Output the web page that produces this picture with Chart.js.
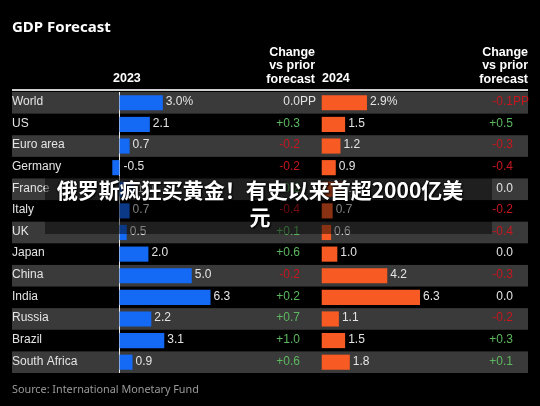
<!DOCTYPE html>
<html lang="en">
<head>
  <meta charset="UTF-8">
  <title>GDP Forecast</title>
  <script src="https://cdn.jsdelivr.net/npm/chart.js"></script>
  <style>
    body {
      margin: 0;
      padding: 0;
      background-color: #000;
    }
    .wrap {
      position: relative;
      width: 540px;
      height: 406px;
    }
    #overlay {
      position: absolute;
      left: 45px;
      top: 176px;
      width: 447px;
      height: 58px;
      background: rgba(0, 0, 0, 0.45);
    }
    #headline {
      position: absolute;
      left: 0;
      top: 176px;
      width: 520px;
      text-align: center;
      font-family: "Noto Sans CJK SC", sans-serif;
      font-weight: bold;
      font-size: 21px;
      line-height: 27px;
      color: #fff;
      text-shadow: 0 0 3px #000, 1px 1px 2px #000;
    }
  </style>
</head>
<body>
  <div class="wrap">
    <canvas id="gdpChart" width="540" height="406"></canvas>
    <div id="overlay"></div>
    <div id="headline">俄罗斯疯狂买黄金！有史以来首超2000亿美<br>元</div>
  </div>

  <script>
    const countries = ['World', 'US', 'Euro area', 'Germany', 'France', 'Italy', 'UK', 'Japan', 'China', 'India', 'Russia', 'Brazil', 'South Africa'];
    const gdp2023 = [3.0, 2.1, 0.7, -0.5, 1.0, 0.7, 0.5, 2.0, 5.0, 6.3, 2.2, 3.1, 0.9];
    const gdp2024 = [2.9, 1.5, 1.2, 0.9, 1.3, 0.7, 0.6, 1.0, 4.2, 6.3, 1.1, 1.5, 1.8];
    const change2023 = [0.0, 0.3, -0.2, -0.2, 0.2, -0.4, 0.1, 0.6, -0.2, 0.2, 0.7, 1.0, 0.6];
    const change2024 = [-0.1, 0.5, -0.3, -0.4, 0.0, -0.2, -0.4, 0.0, -0.3, 0.0, -0.2, 0.3, 0.1];

    const BLUE = '#1469f5';
    const ORANGE = '#f85a24';
    const STRIPE = '#3a3a3a';
    const TEXT = '#e4e4e4';
    const GREEN = '#5cb85f';
    const RED = '#c8161e';
    const SANS = '"Liberation Sans", Arial, sans-serif';

    function fmtChange(v) {
      if (v > 0) return '+' + v.toFixed(1);
      return v.toFixed(1);
    }
    function changeColor(v) {
      if (v > 0) return GREEN;
      if (v < 0) return RED;
      return TEXT;
    }

    const tablePlugin = {
      id: 'tablePlugin',
      beforeDatasetsDraw(chart) {
        const ctx = chart.ctx;
        const area = chart.chartArea;
        const y = chart.scales.y;
        const rowH = (area.bottom - area.top) / countries.length;
        ctx.save();
        // striped rows
        countries.forEach((c, i) => {
          if (i % 2 === 0) {
            const yc = y.getPixelForValue(i);
            ctx.fillStyle = STRIPE;
            ctx.fillRect(area.left, yc - rowH / 2, area.right - area.left, rowH);
          }
        });
        // zero line for 2023
        const x0 = chart.scales.x.getPixelForValue(0);
        ctx.fillStyle = '#e8e8e8';
        ctx.fillRect(Math.round(x0) - 1, area.top, 1, area.bottom - area.top);
        ctx.restore();
      },
      afterDatasetsDraw(chart) {
        const ctx = chart.ctx;
        const area = chart.chartArea;
        const y = chart.scales.y;
        const x = chart.scales.x;
        const x2 = chart.scales.x2;
        ctx.save();
        ctx.font = '12px ' + SANS;
        ctx.textBaseline = 'middle';
        countries.forEach((c, i) => {
          const yc = y.getPixelForValue(i) - 1;
          ctx.fillStyle = TEXT;
          ctx.textAlign = 'left';
          ctx.fillText(c, area.left, yc);

          // 2023 value
          const v1 = gdp2023[i];
          const t1 = v1.toFixed(1) + (i === 0 ? '%' : '');
          const e1 = v1 < 0 ? x.getPixelForValue(0) + 4 : x.getPixelForValue(v1) + 3;
          ctx.fillText(t1, e1, yc);

          // 2024 value
          const v2 = gdp2024[i];
          const t2 = v2.toFixed(1) + (i === 0 ? '%' : '');
          const e2 = v2 < 0 ? x2.getPixelForValue(0) + 4 : x2.getPixelForValue(v2) + 3;
          ctx.fillText(t2, e2, yc);

          // change columns
          ctx.textAlign = 'right';
          ctx.fillStyle = changeColor(change2023[i]);
          ctx.fillText(fmtChange(change2023[i]), 300, yc);
          ctx.fillStyle = changeColor(change2024[i]);
          ctx.fillText(fmtChange(change2024[i]), 513, yc);
          if (i === 0) {
            ctx.textAlign = 'left';
            ctx.fillStyle = changeColor(change2023[i]);
            ctx.fillText('PP', 300, yc);
            ctx.fillStyle = changeColor(change2024[i]);
            ctx.fillText('PP', 513, yc);
          }
        });
        ctx.restore();
      },
      afterDraw(chart) {
        const ctx = chart.ctx;
        const area = chart.chartArea;
        ctx.save();
        ctx.fillStyle = '#fff';
        ctx.textBaseline = 'alphabetic';
        ctx.textAlign = 'left';
        ctx.font = 'bold 15px "Noto Sans", sans-serif';
        ctx.fillText('GDP Forecast', 12, 32);

        ctx.font = 'bold 12.5px ' + SANS;
        ctx.fillText('2023', 113, 82);
        ctx.fillText('2024', 322, 82);
        ctx.textAlign = 'right';
        ['Change', 'vs prior', 'forecast'].forEach((t, k) => {
          ctx.fillText(t, 315, 56 + k * 13.3);
          ctx.fillText(t, 528, 56 + k * 13.3);
        });

        // rule above the table
        ctx.fillStyle = '#cfcfcf';
        ctx.fillRect(area.left, area.top - 3, area.right - area.left, 2);

        ctx.textAlign = 'left';
        ctx.fillStyle = '#9a9a9a';
        ctx.font = '10.8px "Noto Sans", sans-serif';
        ctx.fillText('Source: International Monetary Fund', 12, 393);
        ctx.restore();
      }
    };

    const ctx = document.getElementById('gdpChart').getContext('2d');
    new Chart(ctx, {
      type: 'bar',
      data: {
        labels: countries,
        datasets: [
          {
            label: '2023',
            data: gdp2023,
            xAxisID: 'x',
            backgroundColor: BLUE,
            grouped: false,
            barPercentage: 0.7,
            categoryPercentage: 1
          },
          {
            label: '2024',
            data: gdp2024,
            xAxisID: 'x2',
            backgroundColor: ORANGE,
            grouped: false,
            barPercentage: 0.7,
            categoryPercentage: 1
          }
        ]
      },
      options: {
        indexAxis: 'y',
        responsive: false,
        animation: false,
        layout: {
          padding: { left: 12, right: 12, top: 92, bottom: 33 }
        },
        scales: {
          x: { display: false, min: -7.44, max: 28.27 },
          x2: { display: false, position: 'top', min: -19.85, max: 13.22 },
          y: { display: false }
        },
        plugins: {
          legend: { display: false },
          tooltip: { enabled: false }
        }
      },
      plugins: [tablePlugin]
    });
  </script>
</body>
</html>
